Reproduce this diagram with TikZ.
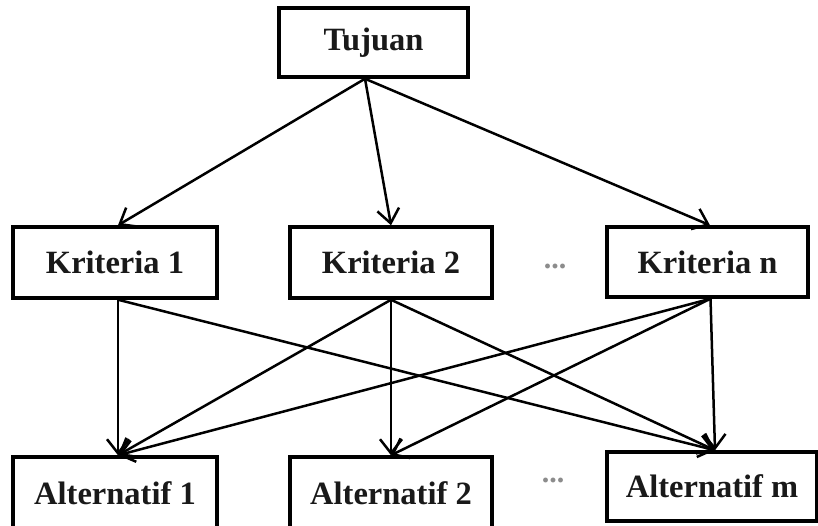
\documentclass[tikz,border=0pt]{standalone}
\usepackage{fontspec}
\setmainfont{Liberation Serif}
\usetikzlibrary{arrows.meta}
\begin{document}
\begin{tikzpicture}[x=1pt,y=-1pt,
  box/.style={draw=black, line width=3.5pt, fill=white, inner sep=0pt,
    font=\fontsize{32.5}{35}\selectfont\bfseries, text=black!90},
  conn/.style={line width=2.5pt, -{Straight Barb[length=14pt,width=22pt,line width=2.5pt]}},
  dots/.style={font=\fontsize{30}{32}\selectfont\bfseries, text=black!45, inner sep=0pt}]
\useasboundingbox (0,0) rectangle (818,526);
\clip (0,0) rectangle (818,526);
\fill[white] (0,0) rectangle (818,526);
% goal
\node[box, minimum width=189pt, minimum height=69pt] (t) at (373.5,42.5) {Tujuan};
% criteria
\node[box, minimum width=204pt, minimum height=71pt] (k1) at (115,262.5) {Kriteria 1};
\node[box, minimum width=202pt, minimum height=71pt] (k2) at (391,262.5) {Kriteria 2};
\node[box, minimum width=201pt, minimum height=70pt] (kn) at (707.5,262) {Kriteria n};
\node[dots] (d1) at (555,266) {...};
% alternatives
\node[box, minimum width=204pt, minimum height=72pt] (a1) at (115,493) {Alternatif 1};
\node[box, minimum width=202pt, minimum height=72pt] (a2) at (391,493) {Alternatif 2};
\node[box, minimum width=210pt, minimum height=69pt] (am) at (712,486.5) {Alternatif m};
\node[dots] (d2) at (553,480) {...};
% goal -> criteria
\draw[conn] ([xshift=-8.5pt]t.south) -- ([xshift=3pt]k1.north);
\draw[conn] ([xshift=-8.5pt]t.south) -- (k2.north);
\draw[conn] ([xshift=-8.5pt]t.south) -- ([xshift=2.5pt]kn.north);
% criteria -> alternatives
\draw[conn] ([xshift=3pt]k1.south) -- ([xshift=3pt]a1.north);
\draw[conn] ([xshift=3pt]k1.south) -- ([xshift=3pt]am.north);
\draw[conn] (k2.south) -- ([xshift=3pt]a1.north);
\draw[conn] (k2.south) -- (a2.north);
\draw[conn] (k2.south) -- ([xshift=3pt]am.north);
\draw[conn] ([xshift=3pt]kn.south) -- ([xshift=3pt]a1.north);
\draw[conn] ([xshift=3pt]kn.south) -- (a2.north);
\draw[conn] ([xshift=3pt]kn.south) -- ([xshift=3pt]am.north);
\end{tikzpicture}
\end{document}
